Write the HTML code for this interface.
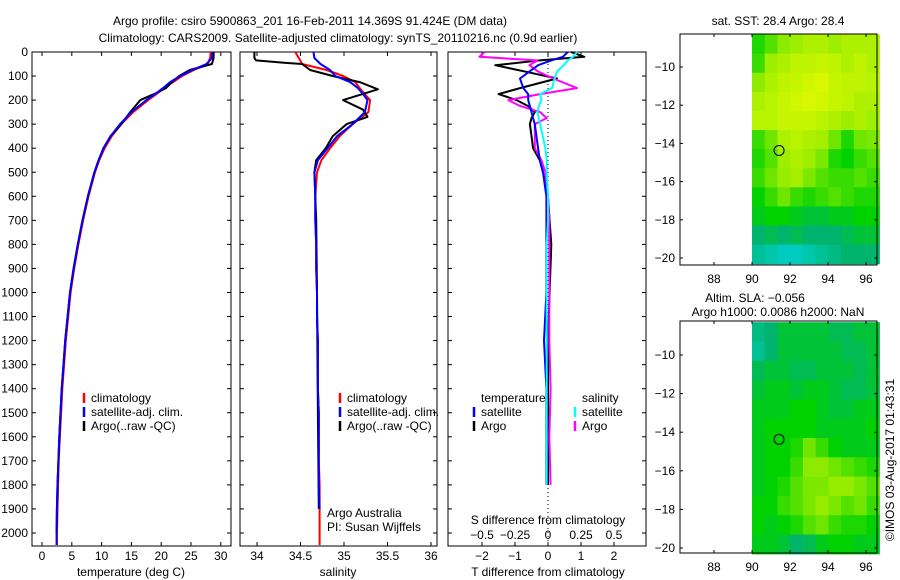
<!DOCTYPE html>
<html><head><meta charset="utf-8"><style>
html,body{margin:0;padding:0;background:#fff}
svg{display:block;font-family:"Liberation Sans",Arial,sans-serif}
text{font-size:12px;fill:#000}
</style></head><body>
<svg id="fig" width="900" height="580" viewBox="0 0 900 580" xmlns="http://www.w3.org/2000/svg">
<rect width="900" height="580" fill="#fff"/>
<text x="310" y="25" text-anchor="middle">Argo profile: csiro 5900863_201 16-Feb-2011 14.369S 91.424E (DM data)</text>
<text x="338" y="42" text-anchor="middle">Climatology: CARS2009. Satellite-adjusted climatology: synTS_20110216.nc (0.9d earlier)</text>
<g id="g"></g>
</svg>
<script>
// ---- profile data ----
const depths = [0,25,50,75,100,125,150,175,200,250,300,350,400,450,500,600,700,800,900,1000,1100,1200,1300,1400,1500,1600,1700,1800,1900,2000,2050];
const tempClim = [28.3,28.2,27.8,25.5,23.5,22,20.5,19.2,17.8,15.3,13.3,11.7,10.5,9.6,8.9,7.8,6.9,6.1,5.4,4.8,4.4,4.0,3.7,3.4,3.2,3.0,2.8,2.7,2.6,2.5,2.5];
const tempSat  = [28.6,28.5,27.6,25.2,23.2,21.5,20.3,19.0,17.5,15.0,13.1,11.5,10.3,9.5,8.8,7.7,6.8,6.0,5.3,4.7,4.3,3.9,3.6,3.3,3.1,2.9,2.75,2.6,2.5,2.45,2.45];
const tempArgo = [28.8,28.8,28.5,24.8,23.0,21.8,20.8,18.8,16.5,14.8,13.3,11.5,10.3,9.5,8.8,7.7,6.8,6.0,5.3,4.7,4.3,3.9,3.6,3.3,3.1,2.9,2.75,2.6,2.5,2.45,null];
const salClim = [34.44,34.48,34.52,34.8,34.99,35.13,35.18,35.24,35.3,35.28,35.1,34.95,34.84,34.74,34.69,34.67,34.67,34.68,34.68,34.69,34.69,34.7,34.7,34.7,34.71,34.71,34.71,34.72,34.72,34.72,34.72];
const salSat  = [34.65,34.66,34.73,34.84,34.9,35.07,35.16,35.22,35.27,35.24,35.1,34.92,34.81,34.7,34.66,34.67,34.67,34.68,34.68,34.69,34.69,34.7,34.7,34.7,34.71,34.71,34.71,34.71,34.72,34.72,34.72];
const salArgoDepths = [0,25,35,45,50,75,100,125,155,200,240,270,300,350,400,450,500,700,1000,1500,1900];
const salArgo = [33.97,33.97,33.99,34.31,34.52,34.61,34.87,35.18,35.39,34.99,35.22,35.27,35.03,34.87,34.79,34.68,34.66,34.68,34.69,34.7,34.71];
const diffDepths = [0,20,35,55,80,110,150,175,200,225,250,275,300,400,450,500,600,700,800,1000,1200,1400,1600,1800];
const tDiffArgo = [0.7,1.1,-0.25,-1.6,-0.75,0.27,-0.85,-1.5,-0.95,-0.6,-0.4,-0.5,-0.55,-0.45,-0.25,-0.15,0,0.05,0.1,0.05,0,0,0,0];
const tDiffSat  = [0.6,0.45,0.1,-0.3,-0.55,-0.85,-0.75,-0.6,-0.6,-0.55,-0.5,-0.45,-0.4,-0.3,-0.25,-0.15,-0.05,-0.05,-0.05,-0.05,-0.12,-0.05,-0.05,-0.05];
const sDiffArgo = [-0.48,-0.52,-0.08,-0.14,-0.08,0.04,0.22,-0.06,-0.3,-0.21,-0.06,-0.01,-0.1,-0.1,-0.05,-0.02,0,0.01,0.01,0.01,0.01,0.02,0.01,0.02];
const sDiffSat  = [0.22,0.19,0.15,0.12,0.07,0.05,0.03,-0.06,-0.05,-0.07,-0.08,-0.07,-0.06,-0.02,-0.01,-0.01,0,0,-0.01,-0.01,-0.01,-0.01,-0.01,-0.01];
const depthTicks = [0,100,200,300,400,500,600,700,800,900,1000,1100,1200,1300,1400,1500,1600,1700,1800,1900,2000];
const tempTicks = [0,5,10,15,20,25,30];
const salTicks = [34,34.5,35,35.5,36];
const tDiffTicks = [-2,-1,0,1,2];
const sDiffTicks = [-0.5,-0.25,0,0.25,0.5];
const sDiffTickLabels = ["\u22120.5","\u22120.25","0","0.25","0.5"];
// ---- map data (rows north->south, cols west->east from 90E) ----
const sstGrid = [
[.55,.65,.75,.8,.85,.85,.8,.85,.85,.85],
[.6,.8,.85,.9,.9,.92,.9,.85,.9,.85],
[.75,.85,.9,.92,.95,.97,.92,.9,.9,.88],
[.85,.88,.92,.95,.97,.95,.92,.9,.85,.85],
[.88,.88,.92,.92,.92,.88,.85,.8,.85,.8],
[.6,.7,.85,.88,.85,.82,.7,.55,.7,.72],
[.55,.65,.8,.85,.8,.72,.55,.5,.6,.65],
[.6,.7,.78,.82,.72,.65,.6,.6,.65,.6],
[.5,.6,.7,.6,.55,.6,.65,.6,.55,.55],
[.45,.5,.5,.45,.4,.4,.45,.45,.5,.5],
[.3,.35,.3,.35,.3,.3,.3,.35,.4,.4],
[.2,.15,.1,.1,.15,.2,.25,.3,.3,.3]];
const slaGrid = [
[.25,.3,.4,.4,.4,.4,.35,.35,.4,.4],
[.2,.3,.4,.4,.4,.4,.4,.35,.35,.4],
[.35,.4,.4,.35,.35,.4,.4,.4,.35,.4],
[.4,.45,.45,.4,.45,.45,.4,.35,.35,.4],
[.45,.45,.45,.5,.5,.45,.4,.4,.45,.45],
[.45,.5,.5,.5,.5,.45,.45,.45,.45,.5],
[.45,.5,.5,.55,.7,.6,.5,.45,.45,.45],
[.45,.5,.5,.6,.75,.75,.7,.65,.6,.55],
[.45,.5,.55,.65,.72,.72,.78,.78,.72,.65],
[.5,.5,.6,.65,.72,.78,.72,.65,.7,.6],
[.5,.45,.5,.55,.65,.7,.6,.55,.55,.5],
[.45,.45,.4,.3,.35,.45,.5,.5,.45,.45]];
const lonTicks = [88,90,92,94,96];
const latTicks = [-10,-12,-14,-16,-18,-20];
const floatLon = 91.424, floatLat = -14.369;

const NS="http://www.w3.org/2000/svg";
const G=document.getElementById('g');
function el(tag,attrs,parent){const e=document.createElementNS(NS,tag);for(const k in attrs)e.setAttribute(k,attrs[k]);(parent||G).appendChild(e);return e;}
function txt(s,x,y,anchor,parent){const t=el('text',{x:x,y:y,'text-anchor':anchor||'middle'},parent);t.textContent=s;return t;}

const TOP=52, BOT=546, yD=d=>TOP+d*0.2405;
const xT=v=>42+v*5.96, xS=v=>257+(v-34)*87, xTd=v=>548+v*33, xSd=v=>548+v*132;
const panels=[{x0:32,x1:231,n:'temperature-panel'},{x0:240,x1:437,n:'salinity-panel'},{x0:448,x1:646,n:'difference-panel'}];

panels.forEach((p,i)=>{
  const g=el('g',{});
  
  
  el('rect',{x:p.x0,y:TOP,width:p.x1-p.x0,height:BOT-TOP,fill:'#fff',stroke:'#000','stroke-width':1},g);
  depthTicks.forEach(d=>{
    const y=yD(d);
    el('line',{x1:p.x0,y1:y,x2:p.x0+4,y2:y,stroke:'#000'},g);
    el('line',{x1:p.x1,y1:y,x2:p.x1-4,y2:y,stroke:'#000'},g);
    if(i===0){const t=txt(String(d),28,y+4,'end',g);
      
      }
  });
});
function xticks(ticks,fx,labels,ly,tickTop){
  ticks.forEach((v,k)=>{const x=fx(v);
    el('line',{x1:x,y1:BOT,x2:x,y2:BOT-4,stroke:'#000'});
    if(tickTop)el('line',{x1:x,y1:TOP,x2:x,y2:TOP+4,stroke:'#000'});
    const t=txt(labels?labels[k]:String(v).replace('-','\u2212'),x,ly);
    
    
  });
}
xticks(tempTicks,xT,null,560,true);
xticks(salTicks,xS,null,560,true);
xticks(tDiffTicks,xTd,null,560,true);
xticks(sDiffTicks,xSd,sDiffTickLabels,539,false);

function line(ds,vals,fx,color,name,w){
  let pts=[];ds.forEach((d,k)=>{if(vals[k]!==null)pts.push(fx(vals[k]).toFixed(1)+','+yD(d).toFixed(1));});
  const l=el('polyline',{points:pts.join(' '),fill:'none',stroke:color,'stroke-width':w||2,'stroke-linejoin':'round'});
  
  
}
line(depths,tempClim,xT,'#f00','temp-climatology-line');
line(depths,tempArgo,xT,'#000','temp-argo-line');
line(depths,tempSat,xT,'#00f','temp-satellite-line');
line(depths,salClim,xS,'#f00','sal-climatology-line');
line(salArgoDepths,salArgo,xS,'#000','sal-argo-line');
line(depths.slice(0,29),salSat.slice(0,29),xS,'#00f','sal-satellite-line');
el('line',{x1:548,y1:TOP,x2:548,y2:BOT,stroke:'#000','stroke-dasharray':'1,3'});
line(diffDepths,tDiffArgo,xTd,'#000','tdiff-argo-line');
line(diffDepths,sDiffArgo,xSd,'#f0f','sdiff-argo-line');
line(diffDepths,tDiffSat,xTd,'#00f','tdiff-satellite-line');
line(diffDepths,sDiffSat,xSd,'#0ff','sdiff-satellite-line');

function legendEntry(x,y,color,label,name){
  const g=el('g',{});
  
  
  el('line',{x1:x,y1:y-9,x2:x,y2:y+1,stroke:color,'stroke-width':2.5},g);
  txt(label,x+7,y,'start',g);
}
legendEntry(84,402,'#f00','climatology','legend-climatology');
legendEntry(84,416,'#00f','satellite-adj. clim.','legend-satellite');
legendEntry(84,430,'#000','Argo(..raw -QC)','legend-argo');
legendEntry(340,402,'#f00','climatology','legend-climatology-2');
legendEntry(340,416,'#00f','satellite-adj. clim.','legend-satellite-2');
legendEntry(340,430,'#000','Argo(..raw -QC)','legend-argo-2');
txt('temperature',481,402,'start');
txt('salinity',582,402,'start');
legendEntry(474,416,'#00f','satellite','legend-t-satellite');
legendEntry(474,430,'#000','Argo','legend-t-argo');
legendEntry(575,416,'#0ff','satellite','legend-s-satellite');
legendEntry(575,430,'#f0f','Argo','legend-s-argo');
txt('Argo Australia',327,517,'start');
txt('PI: Susan Wijffels',327,531,'start');
txt('S difference from climatology',548,524);
txt('temperature (deg C)',131,576);
txt('salinity',338,576);
txt('T difference from climatology',548,576);

// ---- maps ----
function cmap(v){
  const stops=[[0,[0,215,230]],[0.3,[0,180,110]],[0.5,[0,210,0]],[0.75,[140,235,0]],[1,[225,250,0]]];
  for(let i=1;i<stops.length;i++){if(v<=stops[i][0]){const a=stops[i-1],b=stops[i],t=(v-a[0])/(b[0]-a[0]);
    return 'rgb('+a[1].map((c,k)=>Math.round(c+(b[1][k]-c)*t)).join(',')+')';}}
  return 'rgb(225,250,0)';
}
function drawMap(grid,m,name){
  const g=el('g',{});
  
  
  const fx=lon=>714+(lon-88)*19, fy=lat=>m.y10+(-10-lat)*m.s;
  const latTop=-8.3, latBot=-20.3, nR=grid.length, nC=grid[0].length, lonL=90, lonR=96.7;
  grid.forEach((row,r)=>row.forEach((v,c)=>{
    const x0=fx(lonL+(lonR-lonL)*c/nC), x1=fx(lonL+(lonR-lonL)*(c+1)/nC);
    const y0=fy(latTop+(latBot-latTop)*r/nR), y1=fy(latTop+(latBot-latTop)*(r+1)/nR);
    const cell=el('rect',{x:x0.toFixed(1),y:y0.toFixed(1),width:(x1-x0+0.6).toFixed(1),height:(y1-y0+0.6).toFixed(1),fill:cmap(v)},g);
    
    
  }));
  el('rect',{x:680,y:m.top,width:197,height:m.bot-m.top,fill:'none',stroke:'#000'},g);
  lonTicks.forEach(l=>{const x=fx(l);
    el('line',{x1:x,y1:m.top,x2:x,y2:m.top+3,stroke:'#000'},g);
    el('line',{x1:x,y1:m.bot,x2:x,y2:m.bot-3,stroke:'#000'},g);
    txt(String(l),x,m.bot+18,'middle',g);});
  latTicks.forEach(l=>{const y=fy(l);
    el('line',{x1:680,y1:y,x2:683,y2:y,stroke:'#000'},g);
    el('line',{x1:877,y1:y,x2:874,y2:y,stroke:'#000'},g);
    txt(String(l).replace('-','\u2212'),675,y+4,'end',g);});
  const c=el('circle',{cx:fx(floatLon),cy:fy(floatLat),r:5,fill:'none',stroke:'#000'},g);
  
  
}
drawMap(sstGrid,{top:34,bot:265,y10:67,s:19.1},'sst-map');
drawMap(slaGrid,{top:321,bot:553,y10:355,s:19.3},'sla-map');
txt('sat. SST: 28.4 Argo: 28.4',778,25);
txt('Altim. SLA: \u22120.056',755,302);
txt('Argo h1000: 0.0086 h2000: NaN',778,316);
const r=txt('\u00A9IMOS 03-Aug-2017 01:43:31',0,0,'middle');
r.setAttribute('transform','translate(894,460) rotate(-90)');


</script>
</body></html>
